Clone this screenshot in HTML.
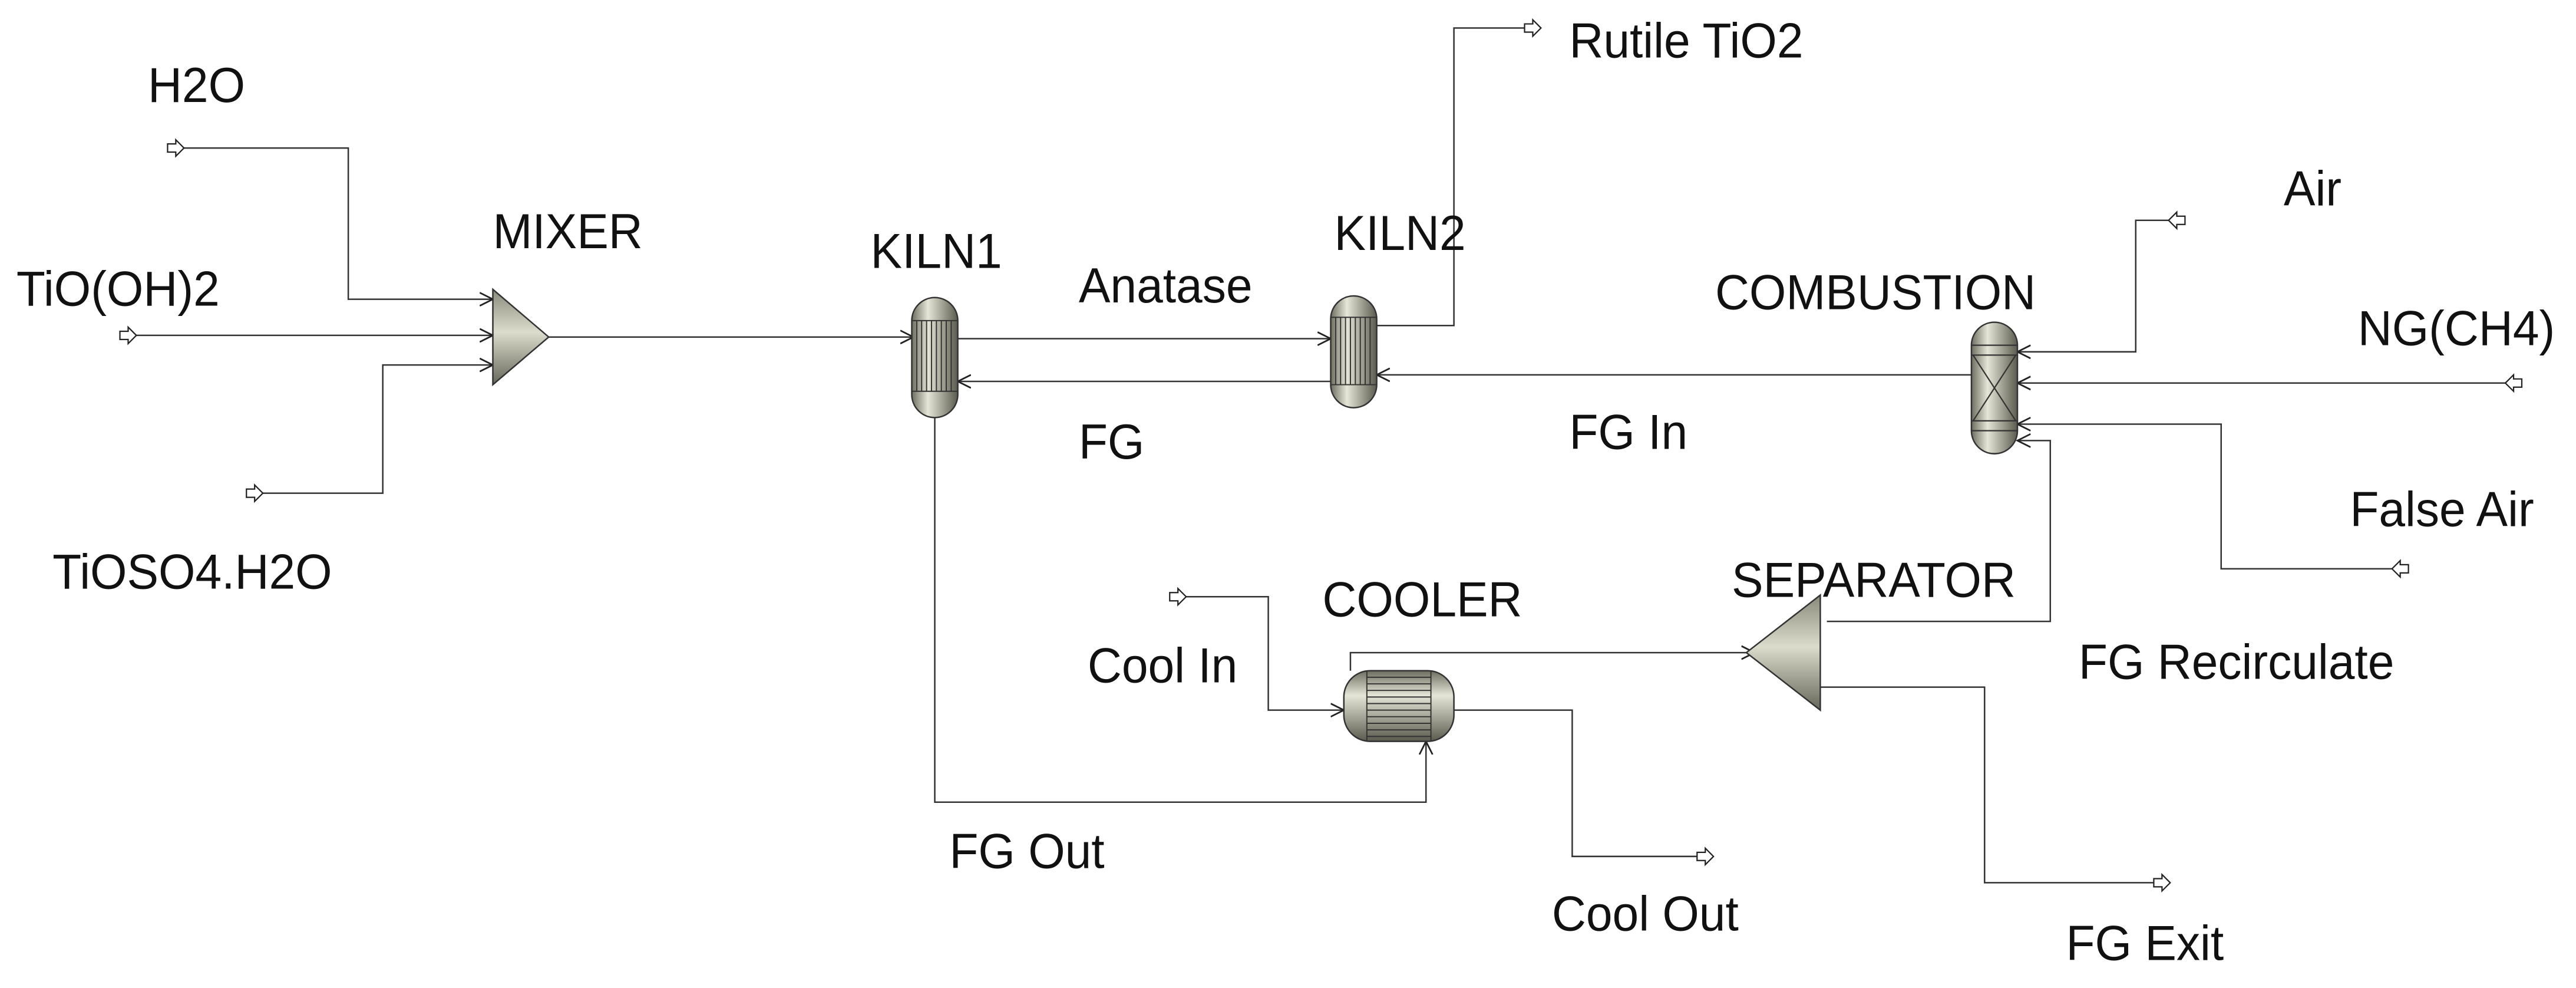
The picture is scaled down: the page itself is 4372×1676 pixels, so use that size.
<!DOCTYPE html>
<html><head><meta charset="utf-8"><style>
html,body{margin:0;padding:0;background:#fff;}
svg{display:block;}
text{font-family:"Liberation Sans",sans-serif;font-size:30px;fill:#111;}
</style></head><body>
<svg width="4372" height="1676" viewBox="0 0 1568 601" xmlns="http://www.w3.org/2000/svg">
<defs>
<linearGradient id="gv" x1="0" y1="0" x2="1" y2="0">
<stop offset="0" stop-color="#6e6e60"/><stop offset="0.35" stop-color="#e6e6d8"/><stop offset="1" stop-color="#5a5a4e"/>
</linearGradient>
<linearGradient id="gh" x1="0" y1="0" x2="0" y2="1">
<stop offset="0" stop-color="#6e6e60"/><stop offset="0.35" stop-color="#e6e6d8"/><stop offset="1" stop-color="#5a5a4e"/>
</linearGradient>
<linearGradient id="gt" x1="0" y1="0" x2="0" y2="1">
<stop offset="0" stop-color="#8a8a7a"/><stop offset="0.45" stop-color="#dcdccc"/><stop offset="1" stop-color="#66665a"/>
</linearGradient>
<g id="port"><path d="M0,-2.5 L5,-2.5 L5,-5 L10,0 L5,5 L5,2.5 L0,2.5 Z" fill="#fff" stroke="#222" stroke-width="0.8"/></g>
<g id="portl"><path d="M0,-2.5 L-5,-2.5 L-5,-5 L-10,0 L-5,5 L-5,2.5 L0,2.5 Z" fill="#fff" stroke="#222" stroke-width="0.8"/></g>
<marker id="ar" markerWidth="10" markerHeight="10" refX="8" refY="5" orient="auto" markerUnits="userSpaceOnUse">
<path d="M0,1 L8,5 L0,9" fill="none" stroke="#222" stroke-width="1"/></marker>
</defs>
<g fill="none" stroke="#333" stroke-width="0.9">
<polyline points="112,90 212,90 212,182 300,182" marker-end="url(#ar)"/>
<polyline points="83,204 300,204" marker-end="url(#ar)"/>
<polyline points="160,300 233,300 233,222 300,222" marker-end="url(#ar)"/>
<polyline points="334,205 556,205" marker-end="url(#ar)"/>
<polyline points="583,206 810,206" marker-end="url(#ar)"/>
<polyline points="810,232 583,232" marker-end="url(#ar)"/>
<polyline points="838,198 885,198 885,17 928,17"/>
<polyline points="1200,228 838,228" marker-end="url(#ar)"/>
<polyline points="1320,134 1300,134 1300,214 1228,214" marker-end="url(#ar)"/>
<polyline points="1525,233 1228,233" marker-end="url(#ar)"/>
<polyline points="1456,346 1352,346 1352,258 1228,258" marker-end="url(#ar)"/>
<polyline points="1112,378 1248,378 1248,268 1228,268" marker-end="url(#ar)"/>
<polyline points="722,363 772,363 772,432 818,432" marker-end="url(#ar)"/>
<polyline points="822,408 822,397 1068,397" marker-end="url(#ar)"/>
<polyline points="569,254 569,488 868,488 868,451" marker-end="url(#ar)"/>
<polyline points="885,432 957,432 957,521 1033,521"/>
<polyline points="1108,418 1208,418 1208,537 1311,537"/>
</g>
<use href="#port" x="102" y="90"/>
<use href="#port" x="73" y="204"/>
<use href="#port" x="150" y="300"/>
<use href="#port" x="928" y="17"/>
<use href="#portl" x="1330" y="134"/>
<use href="#portl" x="1535" y="233"/>
<use href="#portl" x="1466" y="346"/>
<use href="#port" x="712" y="363"/>
<use href="#port" x="1033" y="521"/>
<use href="#port" x="1311" y="537"/>
<polygon points="300,176 300,234 334,205" fill="url(#gt)" stroke="#333" stroke-width="0.9"/>
<polygon points="1063,397 1108,362 1108,432" fill="url(#gt)" stroke="#333" stroke-width="0.9"/>
<rect x="555" y="181" width="28" height="73" rx="14" fill="url(#gv)" stroke="#333" stroke-width="0.9"/>
<g stroke="#333" stroke-width="0.7">
<line x1="555" y1="195" x2="583" y2="195"/><line x1="555" y1="238" x2="583" y2="238"/>
<path d="M558,195V238M561,195V238M564,195V238M567,195V238M570,195V238M573,195V238M576,195V238M579,195V238"/>
</g>
<rect x="810" y="180" width="28" height="68" rx="14" fill="url(#gv)" stroke="#333" stroke-width="0.9"/>
<g stroke="#333" stroke-width="0.7">
<line x1="810" y1="193" x2="838" y2="193"/><line x1="810" y1="234" x2="838" y2="234"/>
<path d="M813,193V234M816,193V234M819,193V234M822,193V234M825,193V234M828,193V234M831,193V234M834,193V234"/>
</g>
<rect x="1200" y="196" width="28" height="80" rx="14" fill="url(#gv)" stroke="#333" stroke-width="0.9"/>
<g stroke="#333" stroke-width="0.8" fill="none">
<line x1="1200" y1="210" x2="1228" y2="210"/><line x1="1200" y1="216" x2="1228" y2="216"/>
<line x1="1200" y1="256" x2="1228" y2="256"/><line x1="1200" y1="262" x2="1228" y2="262"/>
<line x1="1201" y1="216" x2="1227" y2="256"/><line x1="1227" y1="216" x2="1201" y2="256"/>
</g>
<rect x="818" y="408" width="67" height="43" rx="16" fill="url(#gh)" stroke="#333" stroke-width="0.9"/>
<g stroke="#333" stroke-width="0.7">
<line x1="832" y1="408" x2="832" y2="451"/><line x1="871" y1="408" x2="871" y2="451"/>
<path d="M832,412H871M832,416H871M832,420H871M832,424H871M832,428H871M832,432H871M832,436H871M832,440H871M832,444H871M832,448H871"/>
</g>
<g transform="scale(0.96,1)">
<text x="93.75" y="62">H2O</text>
<text x="10.4" y="186">TiO(OH)2</text>
<text x="33.3" y="358">TiOSO4.H2O</text>
<text x="312.5" y="151">MIXER</text>
<text x="552" y="163">KILN1</text>
<text x="684" y="184">Anatase</text>
<text x="846" y="152">KILN2</text>
<text x="684" y="279">FG</text>
<text x="995" y="35">Rutile TiO2</text>
<text x="1087.5" y="188">COMBUSTION</text>
<text x="1448" y="125">Air</text>
<text x="1495" y="210">NG(CH4)</text>
<text x="995" y="273">FG In</text>
<text x="1490" y="320">False Air</text>
<text x="1098" y="363">SEPARATOR</text>
<text x="838.5" y="375">COOLER</text>
<text x="689.6" y="415">Cool In</text>
<text x="1318" y="413">FG Recirculate</text>
<text x="602" y="528">FG Out</text>
<text x="984" y="566">Cool Out</text>
<text x="1310" y="584">FG Exit</text>
</g>
</svg>
</body></html>
